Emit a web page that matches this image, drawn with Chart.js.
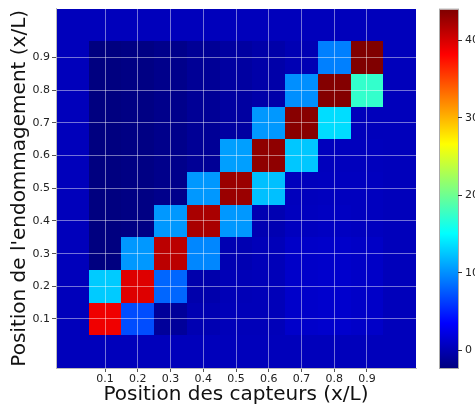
<!DOCTYPE html>
<html>
<head>
<meta charset="utf-8">
<script src="https://cdn.jsdelivr.net/npm/chart.js@4"></script>
<style>
  html, body { margin: 0; padding: 0; background: #fff; overflow: hidden; }
  #wrap { position: relative; width: 475px; height: 408px; overflow: hidden; }
  #heat { position: absolute; left: 0; top: 0; }
  #bar { position: absolute; left: 420px; top: 0; }
</style>
</head>
<body>
<div id="wrap">
  <canvas id="heat" width="475" height="408"></canvas>
  <canvas id="bar" width="80" height="408"></canvas>
</div>
<script>
// cell centres (0.0 .. 1.0), ticks shown only 0.1 .. 0.9
const positions = [0, 0.1, 0.2, 0.3, 0.4, 0.5, 0.6, 0.7, 0.8, 0.9, 1.0];
const tickValues = [0.1, 0.2, 0.3, 0.4, 0.5, 0.6, 0.7, 0.8, 0.9];
const cbTicks = [0, 10, 20, 30, 40];
const cbMin = -2.3;
const cbMax = 44.0;
const edgeValue = 0.4;

// rows = damage position 0.1 .. 0.9, columns = sensor position 0.1 .. 0.9
const row01 = [38.9, 7.0, -1.1, 0.0, 0.3, 0.3, 1.1, 1.2, 1.0];
const row02 = [12.7, 39.7, 8.1, -0.3, 0.2, 0.3, 1.1, 1.2, 1.0];
const row03 = [-2.3, 10.4, 41.3, 9.6, 0.0, 0.3, 1.0, 1.1, 0.9];
const row04 = [-2.3, -2.1, 10.4, 42.1, 10.4, 0.0, 0.6, 0.7, 0.6];
const row05 = [-2.3, -2.1, -1.8, 10.4, 42.8, 12.2, 0.5, 0.6, 0.6];
const row06 = [-2.3, -2.1, -1.8, -1.3, 10.7, 43.3, 12.5, 0.5, 0.5];
const row07 = [-2.3, -2.1, -1.8, -1.3, -0.8, 10.4, 43.6, 13.5, 0.4];
const row08 = [-2.3, -2.1, -1.8, -1.3, -0.8, -0.4, 10.0, 43.8, 17.4];
const row09 = [-2.3, -2.1, -1.8, -1.3, -0.8, -0.4, 0.1, 9.3, 44.0];
const rows = [row01, row02, row03, row04, row05, row06, row07, row08, row09];

function jet(v) {
    let t = (v - cbMin) / (cbMax - cbMin);
    t = Math.max(0, Math.min(1, t));
    const c = x => Math.round(255 * Math.max(0, Math.min(1, x)));
    const r = c(Math.min(4 * t - 1.5, -4 * t + 4.5));
    const g = c(Math.min(4 * t - 0.5, -4 * t + 3.5));
    const b = c(Math.min(4 * t + 0.5, -4 * t + 2.5));
    return `rgb(${r},${g},${b})`;
}

// cells: inner 9x9 from rows, outer ring filled with edgeValue
const cells = [];
positions.forEach((y, i) => {
    positions.forEach((x, j) => {
        const inner = i > 0 && i < 10 && j > 0 && j < 10;
        cells.push({x: x, y: y, v: inner ? rows[i - 1][j - 1] : edgeValue});
    });
});
const half = (positions[1] - positions[0]) / 2;

const heatCells = {
    id: 'heatCells',
    beforeDraw(chart) {
        const {ctx, scales: {x, y}} = chart;
        ctx.save();
        chart.data.datasets[0].data.forEach(p => {
            const x0 = Math.round(x.getPixelForValue(p.x - half));
            const x1 = Math.round(x.getPixelForValue(p.x + half));
            const y0 = Math.round(y.getPixelForValue(p.y + half));
            const y1 = Math.round(y.getPixelForValue(p.y - half));
            ctx.fillStyle = jet(p.v);
            ctx.fillRect(x0, y0, x1 - x0, y1 - y0);
        });
        ctx.restore();
    }
};

const font = {family: 'DejaVu Sans', size: 11};
const titleFont = {family: 'DejaVu Sans', size: 20};

new Chart(document.getElementById('heat'), {
    type: 'scatter',
    data: {datasets: [{data: cells, pointRadius: 0, pointHoverRadius: 0}]},
    options: {
        responsive: false,
        animation: false,
        events: [],
        layout: {padding: {top: 8, right: 59, left: 0, bottom: 0}},
        plugins: {legend: {display: false}, tooltip: {enabled: false}},
        scales: {
            x: {
                type: 'linear',
                min: positions[0] - half,
                max: positions[positions.length - 1] + half,
                afterBuildTicks: s => { s.ticks = tickValues.map(v => ({value: v})); },
                afterFit: s => { s.height = 40; },
                ticks: {font: font, color: '#222', padding: 1, maxRotation: 0,
                        callback: v => v.toFixed(1)},
                grid: {color: 'rgba(255,255,255,0.45)', tickColor: '#555', tickLength: 4},
                border: {color: '#bbb'},
                title: {display: true, text: 'Position des capteurs (x/L)', font: titleFont,
                        color: '#111', padding: {top: 0, bottom: 1}}
            },
            y: {
                type: 'linear',
                min: positions[0] - half,
                max: positions[positions.length - 1] + half,
                afterBuildTicks: s => { s.ticks = tickValues.map(v => ({value: v})); },
                afterFit: s => { s.width = 56; },
                ticks: {font: font, color: '#222', padding: 2,
                        callback: v => v.toFixed(1)},
                grid: {color: 'rgba(255,255,255,0.45)', tickColor: '#555', tickLength: 4},
                border: {color: '#bbb'},
                title: {display: true, text: "Position de l'endommagement (x/L)", font: titleFont,
                        color: '#111', padding: {top: 8, bottom: 0}}
            }
        }
    },
    plugins: [heatCells]
});

const colorRamp = {
    id: 'colorRamp',
    beforeDraw(chart) {
        const {ctx, chartArea: a} = chart;
        const grad = ctx.createLinearGradient(0, a.bottom, 0, a.top);
        for (let k = 0; k <= 64; k++) {
            grad.addColorStop(k / 64, jet(cbMin + (cbMax - cbMin) * k / 64));
        }
        ctx.save();
        ctx.fillStyle = grad;
        ctx.fillRect(a.left, a.top, a.right - a.left, a.bottom - a.top);
        ctx.strokeStyle = '#aaa';
        ctx.lineWidth = 1;
        ctx.strokeRect(a.left - 0.5, a.top - 0.5, a.right - a.left + 1, a.bottom - a.top + 1);
        ctx.restore();
    }
};

new Chart(document.getElementById('bar'), {
    type: 'scatter',
    data: {datasets: [{data: []}]},
    options: {
        responsive: false,
        animation: false,
        events: [],
        layout: {padding: {top: 8, left: 20, right: 0, bottom: 40}},
        plugins: {legend: {display: false}, tooltip: {enabled: false}},
        scales: {
            x: {display: false, min: 0, max: 1},
            y: {
                position: 'right',
                min: cbMin,
                max: cbMax,
                afterBuildTicks: s => { s.ticks = cbTicks.map(v => ({value: v})); },
                afterFit: s => { s.width = 42; },
                ticks: {font: font, color: '#222', padding: 3},
                grid: {drawOnChartArea: false, tickColor: '#333', tickLength: 4},
                border: {display: false}
            }
        }
    },
    plugins: [colorRamp]
});
</script>
</body>
</html>
